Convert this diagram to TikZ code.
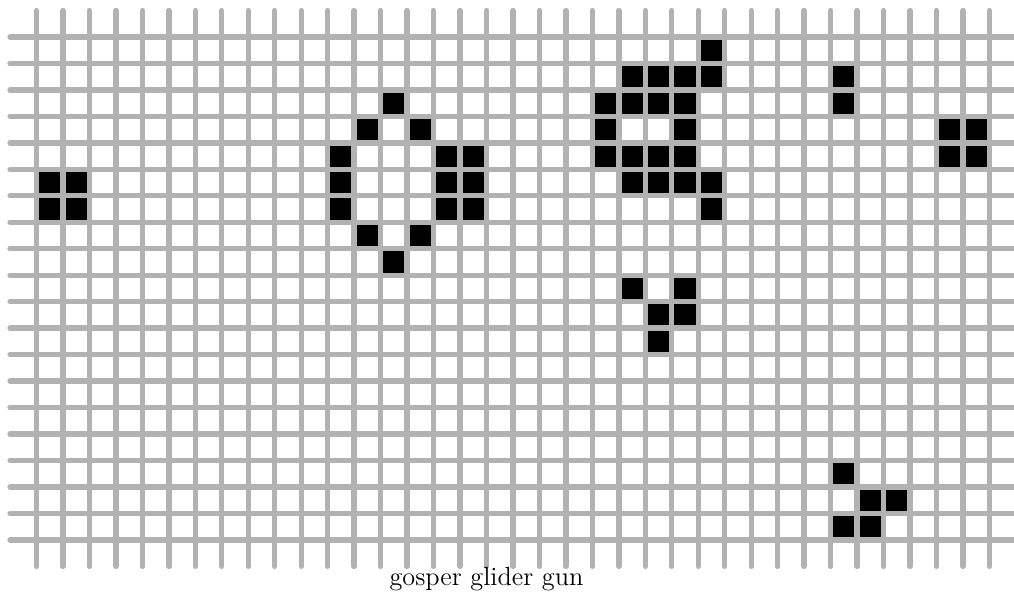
\documentclass[tikz,border=0pt]{standalone}
\begin{document}
\begin{tikzpicture}[x=0.4cm,y=0.4cm,
  gridline/.style={draw=black!30,line width=2.3pt,line cap=round},
  alive/.style={fill=black}]
\useasboundingbox (-1.379,1.398) rectangle (36.93,-21.19);
% live cells (column, row from top)
\foreach \c/\r in {0/5,1/5,0/6,1/6,
  13/2,12/3,14/3,11/4,15/4,16/4,11/5,15/5,16/5,11/6,15/6,16/6,12/7,14/7,13/8,
  25/0,22/1,23/1,24/1,25/1,21/2,22/2,23/2,24/2,21/3,24/3,21/4,22/4,23/4,24/4,
  22/5,23/5,24/5,25/5,25/6,
  22/9,24/9,23/10,24/10,23/11,
  30/1,30/2,34/3,35/3,34/4,35/4,
  30/16,31/17,32/17,30/18,31/18}
  \fill[alive] (\c,-\r) rectangle ++(1,-1);
% grid
\foreach \i in {0,...,36}
  \draw[gridline] (\i,1) -- (\i,-20);
\foreach \j in {0,...,19}
  \draw[gridline] (-1,-\j) -- (37,-\j);
\node[anchor=base,font=\fontsize{11.3}{13.5}\selectfont] (caption) at (17,-20.73) {gosper glider gun};
\end{tikzpicture}
\end{document}
